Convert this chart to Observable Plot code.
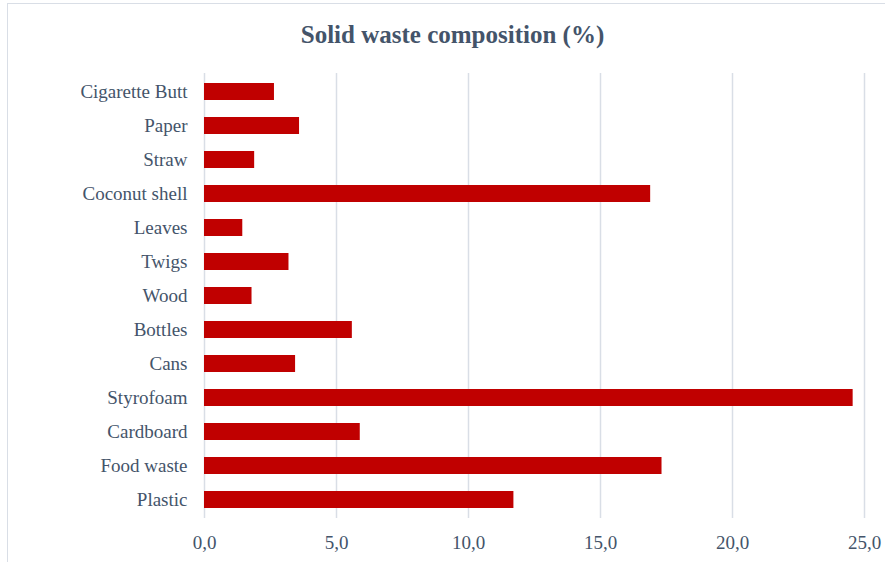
<!DOCTYPE html>
<html>
<head>
<meta charset="utf-8">
<script src="https://cdn.jsdelivr.net/npm/d3@7"></script>
<script src="https://cdn.jsdelivr.net/npm/@observablehq/plot@0.6"></script>
<style>
  html, body { margin: 0; padding: 0; background: #fff; }
  #wrap { position: relative; width: 885px; height: 562px; overflow: hidden; background: #fff; }
  #frame { position: absolute; left: 7px; top: 3px; width: 900px; height: 600px;
           border-left: 1.5px solid #D9DEE6; border-top: 1.5px solid #D9DEE6; }
  #title { position: absolute; left: 0; top: 20px; width: 905px; text-align: center;
           font-family: "Liberation Serif", "Times New Roman", serif; font-weight: bold;
           font-size: 25px; line-height: 30px; color: #44546A; }
  #chart { position: absolute; left: 0; top: 60px; }
  #chart svg { font-family: "Liberation Serif", "Times New Roman", serif; }
</style>
</head>
<body>
<div id="wrap">
  <div id="frame"></div>
  <div id="title">Solid waste composition (%)</div>
  <div id="chart"></div>
</div>
<script>
const categories = ["Cigarette Butt", "Paper", "Straw", "Coconut shell", "Leaves", "Twigs", "Wood",
                    "Bottles", "Cans", "Styrofoam", "Cardboard", "Food waste", "Plastic"];
const values = [2.65, 3.6, 1.9, 16.9, 1.45, 3.2, 1.8, 5.6, 3.45, 24.57, 5.9, 17.33, 11.72];
const xTicks = [0, 5, 10, 15, 20, 25];

const data = categories.map((c, i) => ({category: c, value: values[i]}));
const fmt = d => d.toFixed(1).replace(".", ",");

const chart = Plot.plot({
  width: 885,
  height: 502,
  marginLeft: 204,
  marginRight: 21,
  marginTop: 13,
  marginBottom: 44,
  style: {fontSize: "19px", color: "#44546A", fontFamily: "Liberation Serif, Times New Roman, serif", background: "transparent"},
  x: {domain: [0, 25], ticks: xTicks, tickFormat: fmt, label: null},
  y: {domain: categories, paddingInner: 0.5, paddingOuter: 0.25, label: null},
  marks: [
    Plot.ruleX(xTicks, {stroke: "#D9DEE6", strokeWidth: 1.5}),
    Plot.barX(data, {x: "value", y: "category", fill: "#C00000"}),
    Plot.axisX({ticks: xTicks, tickFormat: fmt, tickSize: 0, tickPadding: 17, fill: "#44546A", label: null, fontSize: 19}),
    Plot.axisY({tickSize: 0, tickPadding: 17, fill: "#44546A", label: null, fontSize: 19})
  ]
});
document.getElementById("chart").appendChild(chart);
</script>
</body>
</html>
